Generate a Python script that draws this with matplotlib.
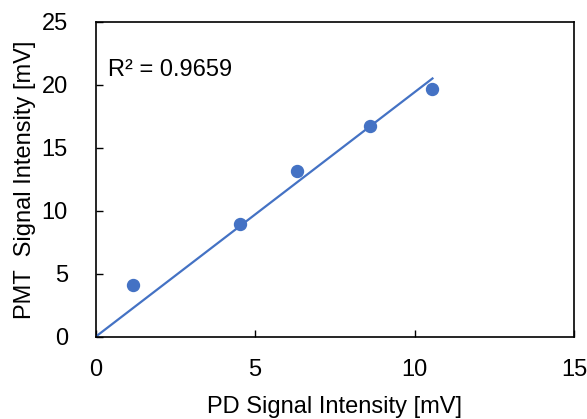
import numpy as np
import matplotlib.pyplot as plt

plt.rcParams['font.family'] = ['Liberation Sans', 'DejaVu Sans']

# PD vs PMT signal (mV)
pd_signal = [1.18, 4.51, 6.32, 8.61, 10.56]
pmt_signal = [4.14, 8.94, 13.2, 16.7, 19.7]
r2_text = "R² = 0.9659"

x = np.array(pd_signal)
y = np.array(pmt_signal)
# linear trendline forced through the origin
slope = np.sum(x * y) / np.sum(x * x)
xfit = np.array([0, x.max()])

fig = plt.figure(figsize=(5.87, 4.19), dpi=100)
ax = fig.add_axes([0.163, 0.1964, 0.815, 0.7511])

ax.plot(xfit, slope * xfit, color='#4472C4', linewidth=1.6, zorder=2)
ax.plot(x, y, 'o', color='#4472C4', markersize=8.6, zorder=3)

ax.text(0.38, 21.2, r2_text, fontsize=17, va='center', ha='left')

ax.set_xlim(0, 15)
ax.set_ylim(0, 25)
ax.set_xticks([0, 5, 10, 15])
ax.set_yticks([0, 5, 10, 15, 20, 25])
ax.tick_params(direction='in', length=5, width=1, labelsize=17)
ax.tick_params(axis='x', pad=16)
ax.tick_params(axis='y', pad=20)
for s in ax.spines.values():
    s.set_linewidth(1.2)

ax.set_xlabel("PD Signal Intensity [mV]", fontsize=17, labelpad=11)
ax.set_ylabel("PMT  Signal Intensity [mV]", fontsize=17, labelpad=4)

fig.savefig("out.png", dpi=100)
